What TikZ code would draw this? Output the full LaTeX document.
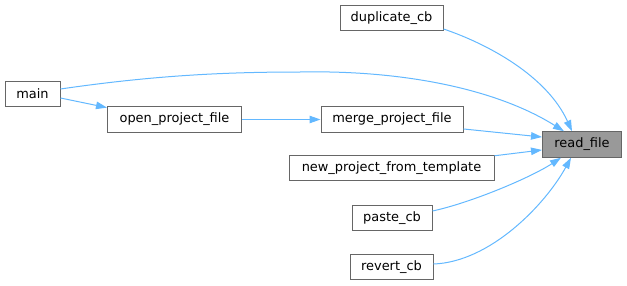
\documentclass[tikz,border=0pt]{standalone}
\usepackage{fontspec}
\setmainfont{DejaVu Sans}
\usetikzlibrary{arrows.meta}
\definecolor{edgeblue}{HTML}{63B8FF}
\definecolor{boxgray}{HTML}{666666}
\definecolor{hlgray}{HTML}{999999}
\begin{document}
\begin{tikzpicture}[x=0.75pt,y=-0.75pt,
  fn/.style={draw=boxgray, line width=0.75pt, fill=white, inner sep=0pt,
    minimum height=19.1pt, font=\fontsize{9.7}{11}\selectfont},
  current/.style={fn, fill=hlgray},
  call/.style={draw=edgeblue, line width=0.75pt,
    -{Triangle[length=8.25pt,width=5.6pt]}}]
\useasboundingbox (0,0) rectangle (627,285);

% callers and the called function
\node[fn, minimum width=77.25pt]  (dup)    at (391.5,17.75) {duplicate\_cb};
\node[fn, minimum width=41.25pt]  (main)   at (32.5,94)     {main};
\node[fn, minimum width=100.5pt]  (open)   at (174.5,119.5) {open\_project\_file};
\node[fn, minimum width=106.5pt]  (merge)  at (392,119.5)   {merge\_project\_file};
\node[current, minimum width=59.25pt] (read) at (582,144.5) {read\_file};
\node[fn, minimum width=153.75pt] (new)    at (391.5,168)   {new\_project\_from\_template};
\node[fn, minimum width=60pt]     (paste)  at (392,218)     {paste\_cb};
\node[fn, minimum width=62.25pt]  (revert) at (391.5,267)   {revert\_cb};

% call edges
\draw[call] ([yshift=1.5pt]dup.south east)
  .. controls (488,44) and (547,76) .. ([xshift=-7.5pt]read.north);
\draw[call] ([yshift=3.75pt]main.east)
  .. controls (150,76) and (220,72) .. (300,72)
  .. controls (400,70) and (495,88) .. ([xshift=-13.5pt]read.north);
\draw[call] ([yshift=-3pt]main.east) -- ([yshift=-1pt]open.north west);
\draw[call] (open.east) -- (merge.west);
\draw[call] ([yshift=-7.1pt]merge.east) -- ([yshift=5.6pt]read.west);
\draw[call] ([yshift=-0.75pt]new.north east) -- ([yshift=-4.1pt]read.west);
\draw[call] ([yshift=5.25pt]paste.east)
  .. controls (470,203) and (530,178) .. ([xshift=-15.75pt]read.south);
\draw[call] ([yshift=2.25pt]revert.east)
  .. controls (490,262) and (545,205) .. ([xshift=-8.25pt]read.south);
\end{tikzpicture}
\end{document}
